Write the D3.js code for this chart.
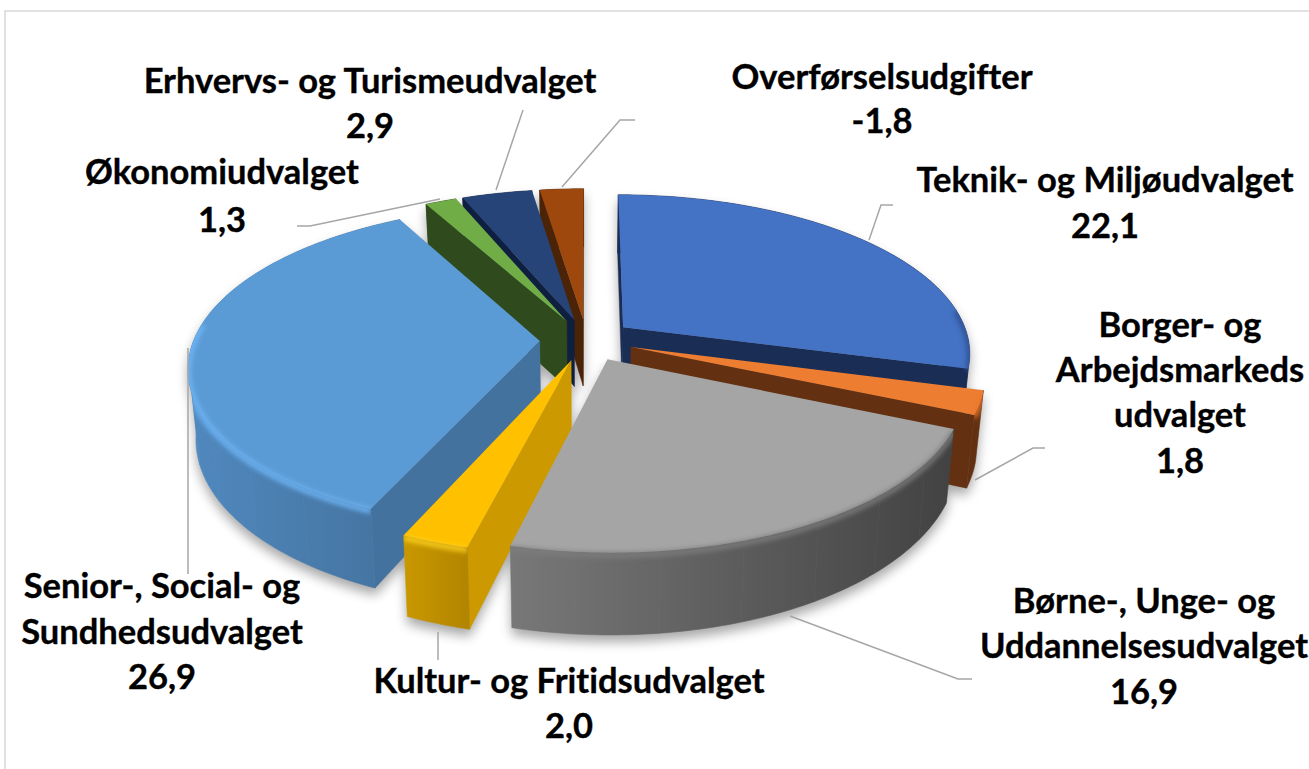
<!DOCTYPE html>
<html><head><meta charset="utf-8">
<script src="https://cdn.jsdelivr.net/npm/d3@7/dist/d3.min.js"></script>
<style>html,body{margin:0;padding:0;background:#fff;overflow:hidden}svg{display:block}text{font-family:Lato,Carlito,sans-serif;font-weight:700;fill:#000;stroke:#000;stroke-width:.35;font-variant-ligatures:none}</style>
</head><body><svg id="c" width="1309" height="769"></svg>
<script>
// --- data, in the reference's clockwise order
const categories = ["Teknik- og Miljøudvalget","Borger- og Arbejdsmarkeds udvalget","Børne-, Unge- og Uddannelsesudvalget","Kultur- og Fritidsudvalget","Senior-, Social- og Sundhedsudvalget","Økonomiudvalget","Erhvervs- og Turismeudvalget","Overførselsudgifter"];
const values = [22.1,1.8,16.9,2.0,26.9,1.3,2.9,-1.8];
const labelLines = [["Teknik- og Miljøudvalget"],["Borger- og","Arbejdsmarkeds","udvalget"],["Børne-, Unge- og","Uddannelsesudvalget"],["Kultur- og Fritidsudvalget"],["Senior-, Social- og","Sundhedsudvalget"],["Økonomiudvalget"],["Erhvervs- og Turismeudvalget"],["Overførselsudgifter"]];

// --- styles
const topColors  = ["#4472c4","#ed7d31","#a5a5a5","#ffc000","#5b9bd5","#70ad47","#264478","#9e480e"];
const rimColors  = ["#2f4f8f","#e9782c","#7d7d7d","#ffd21a","#70b8fa","#70ad47","#264478","#9e480e"];
const wallStart  = ["#1a2d55","#633112","#424242","#b38500","#44729e","#2f4a1c","#0f1f3f","#4b2407"];
const wallEnd    = ["#1a2d55","#633112","#787878","#c99800","#5089bf","#2f4a1c","#0f1f3f","#4b2407"];
const faceColors = ["#1a2d55","#633112","#424242","#cc9a00","#44729e","#2f4a1c","#0f1f3f","#4b2407"];
const drawOrder  = [7,6,5,0,4,1,3,2];

// --- layout
const cx=586.5, cy=340, Rx=346, Ry=156.7, persp=0.155, H=68, explode=0.135;
const labelPos = [
 {x:1105,y:[192,238]},{x:1180,y:[337,382,427,473]},{x:1144,y:[613,658,704]},{x:569,y:[693,738]},
 {x:162,y:[598,644,689]},{x:222,y:[184,232]},{x:370,y:[93,138]},{x:882,y:[89,133]}];
const leaders = [
 [[869,240],[881,205],[893,205]],[[975,480],[1033,448],[1045,448]],[[790,616],[958,679],[972,679]],
 [[438,632],[438,660]],[[188,348],[188,574]],[[297,226],[310,226],[440,199]],[[496,190],[523,110]],[[562,187],[620,120],[635,120]]];

const fmt = d3.formatLocale({decimal:",",thousands:".",grouping:[3],currency:["","kr"],minus:"-"}).format(".1f");
const svg = d3.select("#c");
const defs = svg.append("defs");
defs.append("filter").attr("id","soft").attr("x","-20%").attr("y","-20%").attr("width","140%").attr("height","140%")
   .append("feGaussianBlur").attr("stdDeviation",6);
defs.append("filter").attr("id","rim").attr("filterUnits","userSpaceOnUse").attr("x",0).attr("y",0).attr("width",1309).attr("height",769)
   .append("feGaussianBlur").attr("stdDeviation",2.6);

svg.append("path").attr("d","M5,769V11H1309").attr("fill","none").attr("stroke","#d9d9d9").attr("stroke-width",1.6);

const arcs = d3.pie().sort(null).value(d=>Math.abs(d))(values);
const line = d3.line();
function proj(a,mid,r,h){
  const X=explode*Math.sin(mid)+r*Math.sin(a), Z=explode*Math.cos(mid)+r*Math.cos(a);
  const s=1/(1+persp*Z);
  return [cx+Rx*X*s*(1-0.02*h/H), cy+(-Ry*Z+h)*s];
}
const step=2*Math.PI/360;
function thetas(a,b){const n=Math.max(1,Math.ceil((b-a)/step));return d3.range(n+1).map(i=>a+(b-a)*i/n);}

const shadow = svg.append("g").attr("filter","url(#soft)").attr("transform","translate(0,7)").attr("opacity",0.34);
const chart = svg.append("g");

drawOrder.forEach(i=>{
  const d=arcs[i], a0=d.startAngle, a1=d.endAngle, mid=(a0+a1)/2;
  const g=chart.append("g").attr("class","slice");
  const ts=thetas(a0,a1);
  const A=proj(0,mid,0,0), Ab=proj(0,mid,0,H);
  const topArc=ts.map(t=>proj(t,mid,1,0)), botArc=ts.map(t=>proj(t,mid,1,H));
  const top=[A,...topArc], bottom=[Ab,...botArc];
  const clip=defs.append("clipPath").attr("id","clip"+i);
  clip.append("path").attr("d",line(top)+"Z");
  shadow.append("path").attr("d",line(top)+"Z").attr("fill","#000");
  shadow.append("path").attr("d",line(bottom)+"Z").attr("fill","#000");
  // radial cut faces, culled by orientation (d3.polygonArea is negative for clockwise-on-screen)
  [[a0,1],[a1,-1]].forEach(([a,sgn])=>{
    const q=[A,proj(a,mid,1,0),proj(a,mid,1,H),Ab];
    shadow.append("path").attr("d",line(q)+"Z").attr("fill","#000");
    if(d3.polygonArea(q)*sgn>0) g.append("path").attr("d",line(q)+"Z").attr("fill",faceColors[i]).attr("stroke",faceColors[i]).attr("stroke-width",.4);
  });
  // outer wall: short panels sharing one horizontal gradient, so the fold at the silhouette stays filled
  const xs=topArc.map(p=>p[0]), xA=topArc[topArc.length-1][0], xB=topArc[0][0];
  const grad=defs.append("linearGradient").attr("id","wall"+i).attr("gradientUnits","userSpaceOnUse")
     .attr("x1",Math.min(xA,d3.min(xs))).attr("x2",Math.max(xB,d3.max(xs))).attr("y1",0).attr("y2",0);
  grad.append("stop").attr("offset",0).attr("stop-color",wallEnd[i]);
  grad.append("stop").attr("offset",1).attr("stop-color",wallStart[i]);
  const panel=12;
  for(let k=0;k<ts.length-1;k+=panel){
    const e=Math.min(k+panel,ts.length-1);
    const quad=[...topArc.slice(k,e+1),...botArc.slice(k,e+1).reverse()];
    shadow.append("path").attr("d",line(quad)+"Z").attr("fill","#000");
    clip.append("path").attr("d",line(quad)+"Z");
    g.append("path").attr("d",line(quad)+"Z").attr("fill",`url(#wall${i})`).attr("stroke",`url(#wall${i})`).attr("stroke-width",.6);
  }
  // top face
  g.append("path").attr("d",line(top)+"Z").attr("fill",topColors[i]);
  // soft bevel on the camera-facing rim, kept inside the slice's top and wall
  const rimTs=ts.filter(t=>Math.cos(t)<0.12);
  if(rimTs.length>1){
    g.append("g").attr("clip-path",`url(#clip${i})`).append("path")
     .attr("d",line(rimTs.map(t=>proj(t,mid,1,2))))
     .attr("fill","none").attr("stroke",rimColors[i]).attr("stroke-width",5).attr("filter","url(#rim)");
  }
});

// leader lines
const ll=svg.append("g");
leaders.forEach(p=>ll.append("path").attr("d",line(p)).attr("fill","none").attr("stroke","#a6a6a6").attr("stroke-width",1.5));

// labels
const lab=svg.append("g").attr("text-anchor","middle").attr("font-size",34.5);
labelLines.forEach((lines,i)=>{
  [...lines,fmt(values[i])].forEach((t,j)=>{
    lab.append("text").attr("x",labelPos[i].x).attr("y",labelPos[i].y[j]).text(t);
  });
});
</script></body></html>
